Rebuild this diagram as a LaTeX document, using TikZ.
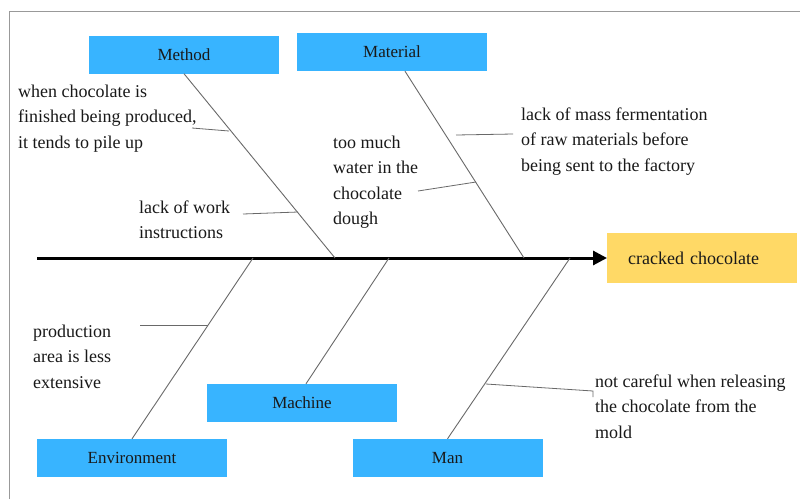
\documentclass[tikz,border=0pt]{standalone}
\usepackage{fontspec}
\setmainfont{Liberation Serif}
\newfontfamily\timesfont{Liberation Serif}
\usetikzlibrary{arrows.meta,calc}
\definecolor{boxblue}{RGB}{56,180,255}
\definecolor{boxyellow}{RGB}{255,217,102}
\definecolor{linegray}{RGB}{105,105,105}
\begin{document}
\begin{tikzpicture}[x=1pt,y=-1pt,
  catbox/.style={fill=boxblue,minimum width=190pt,minimum height=38pt,inner sep=0pt,font=\timesfont\fontsize{17}{18}\selectfont,text=black!90},
  note/.style={anchor=north west,inner sep=0pt,align=left,font=\timesfont\fontsize{18}{25.5}\selectfont,text=black!90},
  bone/.style={draw=linegray,line width=0.9pt},
  sub/.style={draw=linegray,line width=0.8pt},
  spine/.style={draw=black,line width=3pt,-{Triangle[length=14pt,width=14pt]}},
  frame/.style={draw=gray!80,line width=0.8pt}]
\useasboundingbox (0,0) rectangle (800,499);
\fill[white] (0,0) rectangle (800,499);
\draw[frame] (9,499) -- (9,11) -- (800,11);

% category boxes
\node[catbox] (method) at (184,54.5) {Method};
\node[catbox] (material) at (392,52) {Material};
\node[catbox] (machine) at (302,403) {Machine};
\node[catbox] (environment) at (132,458) {Environment};
\node[catbox] (man) at (447.5,458) {Man};
\node[fill=boxyellow,minimum height=50pt,text width=148pt,inner xsep=21pt,inner ysep=0pt,align=left,
      font=\timesfont\fontsize{18}{21}\selectfont,text=black!90,anchor=west] (effect) at (607,258) {cracked chocolate};

% spine
\coordinate (spinestart) at (37,258);
\draw[spine] (spinestart) -- (effect.west);

% junctions on spine
\coordinate (jmethod) at (335,258);
\coordinate (jmaterial) at (524,258);
\coordinate (jenv) at (253,258);
\coordinate (jmachine) at (389,258);
\coordinate (jman) at (570,258);

\draw[bone] (method.south) -- (jmethod);
\draw[bone] ([xshift=13pt]material.south) -- (jmaterial);
\draw[bone] (environment.north) -- (jenv);
\draw[bone] ([xshift=4pt]machine.north) -- (jmachine);
\draw[bone] (man.north) -- (jman);

% notes
\node[note] (n1) at (18,84.5) {when chocolate is\\finished being produced,\\it tends to pile up};
\node[note] (n2) at (139,200.5) {lack of work\\instructions};
\node[note] (n3) at (333,135.5) {too much\\water in the\\chocolate\\dough};
\node[note] (n4) at (521,107.5) {lack of mass fermentation\\of raw materials before\\being sent to the factory};
\node[note] (n5) at (33,324.5) {production\\area is less\\extensive};
\node[note] (n6) at (595,374.5) {not careful when releasing\\the chocolate from the\\mold};

% note connectors
\coordinate (s1a) at (192,128); \coordinate (s1b) at (229,131);
\draw[sub] (s1a) -- (s1b);
\coordinate (s2a) at (243,214); \coordinate (s2b) at (298,212);
\draw[sub] (s2a) -- (s2b);
\coordinate (s3a) at (418,191); \coordinate (s3b) at (476,182);
\draw[sub] (s3a) -- (s3b);
\coordinate (s4a) at (513,134); \coordinate (s4b) at (456,135);
\draw[sub] (s4a) -- (s4b);
\coordinate (s5a) at (140,325); \coordinate (s5b) at (208,325);
\draw[sub] (s5a) -- (s5b);
\coordinate (s6a) at (593,397); \coordinate (s6b) at (486,384);
\draw[sub] (s6a) -- ++(0,-6) -- (s6b);
\end{tikzpicture}
\end{document}
